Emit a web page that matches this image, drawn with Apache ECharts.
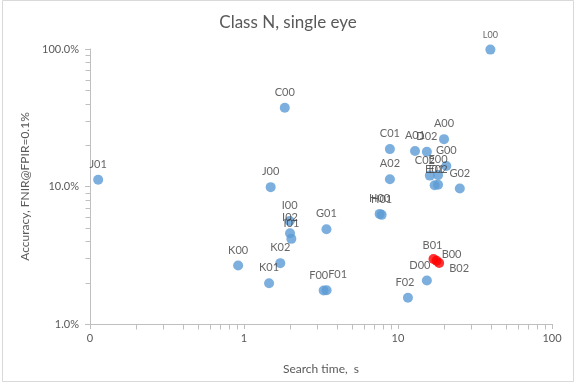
<!DOCTYPE html>
<html>
<head>
<meta charset="utf-8">
<script src="https://cdn.jsdelivr.net/npm/echarts@6/dist/echarts.min.js"></script>
<style>html,body{margin:0;padding:0;background:#fff}#c{width:576px;height:384px}</style>
</head>
<body>
<div id="c"></div>
<script>
// ---- data ----
const blueNames = ['L00','C00','J01','J00','I00','I02','I01','K00','K02','K01','F00','F01','G01','H00','H01','C01','A02','A01','D02','A00','G00','C02','E00','E01','E02','G02','D00','F02'];
const blueTime  = [39.8,1.84,0.113,1.49,1.98,1.99,2.03,0.916,1.72,1.455,3.29,3.44,3.43,7.60,7.83,8.86,8.86,12.9,15.4,19.9,20.6,16.1,18.2,17.3,18.2,25.2,15.4,11.6];
const blueAcc   = [0.99,0.374,0.112,0.0989,0.0562,0.0457,0.0416,0.0266,0.0277,0.0198,0.0175,0.0176,0.0489,0.0632,0.0622,0.187,0.113,0.181,0.179,0.221,0.141,0.120,0.121,0.102,0.103,0.0966,0.0207,0.0155];
const redNames = ['B01','B00','B02'];
const redTime  = [17.0,17.8,18.5];
const redAcc   = [0.0297,0.0288,0.0278];

const xTickValues = [0.1,1,10,100];
const xTickText   = ['0','1','10','100'];
const yTickValues = [0.01,0.1,1];
const yTickText   = ['1.0%','10.0%','100.0%'];
const xMinorTicks = [0.2,0.3,0.4,0.5,0.6,0.7,0.8,0.9,2,3,4,5,6,7,8,9,20,30,40,50,60,70,80,90];
const yMinorTicks = [0.02,0.03,0.04,0.05,0.06,0.07,0.08,0.09,0.2,0.3,0.4,0.5,0.6,0.7,0.8,0.9];

// ---- label placement tweaks (style, not data) ----
const labelOffsets = {F00:[-5,0],F01:[11,0],D00:[-7,0],F02:[-3,0],C02:[-5,0],B01:[-1,2],B00:[15,9],B02:[20,21]};
const labelSizes = {L00:9};

const FONT = 'Lato';
const TXT = '#595959';

function buildPoints(names, xs, ys){
  return names.map((n,i)=>{
    const item = {name:n, value:[xs[i], ys[i]]};
    const lab = {};
    if (labelOffsets[n]) lab.offset = labelOffsets[n];
    if (labelSizes[n]) lab.fontSize = labelSizes[n];
    if (Object.keys(lab).length) item.label = lab;
    return item;
  });
}

const chart = echarts.init(document.getElementById('c'), null, {renderer:'canvas'});

function tickRenderer(dir){
  return function(params, api){
    const p = api.coord([api.value(0), api.value(1)]);
    const x = Math.round(p[0]) + 0.5, y = Math.round(p[1]) + 0.5;
    const shape = dir === 'x' ? {x1:x, y1:y, x2:x, y2:y+5} : {x1:x, y1:y, x2:x-5, y2:y};
    return {type:'line', shape, style:{stroke:'#bfbfbf', lineWidth:1}, silent:true};
  };
}

const pointLabel = {
  show:true, position:'top', distance:5,
  formatter: p => p.name,
  color:'#404040', fontFamily:FONT, fontSize:11
};

chart.setOption({
  backgroundColor:'#ffffff',
  animation:false,
  title:{
    text:'Class N, single eye', left:'center', top:9,
    textStyle:{fontFamily:FONT, fontSize:17, fontWeight:'normal', color:TXT}
  },
  graphic:[{type:'rect', shape:{x:2.5, y:0.5, width:571, height:381}, style:{fill:'none', stroke:'#d9d9d9', lineWidth:1}, silent:true}],
  grid:{left:90, right:24, top:49, bottom:60},
  xAxis:{
    type:'log', logBase:10, min:0.1, max:100,
    name:'Search time,  s', nameLocation:'middle', nameGap:39,
    nameTextStyle:{fontFamily:FONT, fontSize:12, color:TXT},
    axisLine:{show:true, lineStyle:{color:'#bfbfbf'}},
    axisTick:{show:true, length:5, lineStyle:{color:'#bfbfbf'}},
    splitLine:{show:false},
    axisLabel:{fontFamily:FONT, fontSize:11, color:TXT, margin:9,
      formatter: v => { const i = xTickValues.findIndex(t => Math.abs(Math.log10(t) - Math.log10(v)) < 1e-6); return i >= 0 ? xTickText[i] : ''; }}
  },
  yAxis:{
    type:'log', logBase:10, min:0.01, max:1,
    name:'Accuracy, FNIR@FPIR=0.1%', nameLocation:'middle', nameGap:52,
    nameTextStyle:{fontFamily:FONT, fontSize:12, color:TXT},
    axisLine:{show:true, lineStyle:{color:'#bfbfbf'}},
    axisTick:{show:true, length:5, lineStyle:{color:'#bfbfbf'}},
    splitLine:{show:false},
    axisLabel:{fontFamily:FONT, fontSize:11, color:TXT, margin:11,
      formatter: v => { const i = yTickValues.findIndex(t => Math.abs(Math.log10(t) - Math.log10(v)) < 1e-6); return i >= 0 ? yTickText[i] : ''; }}
  },
  series:[
    {type:'custom', renderItem:tickRenderer('x'), data:xMinorTicks.map(v=>[v,0.01]), clip:false, silent:true, z:1},
    {type:'custom', renderItem:tickRenderer('y'), data:yMinorTicks.map(v=>[0.1,v]), clip:false, silent:true, z:1},
    {type:'scatter', name:'blue', symbol:'circle', symbolSize:10,
     itemStyle:{color:'#5b9bd5'}, label:pointLabel,
     data:buildPoints(blueNames, blueTime, blueAcc), z:3},
    {type:'scatter', name:'red', symbol:'circle', symbolSize:10,
     itemStyle:{color:'#ff0000'}, label:pointLabel,
     data:buildPoints(redNames, redTime, redAcc), z:4}
  ]
});
</script>
</body>
</html>
